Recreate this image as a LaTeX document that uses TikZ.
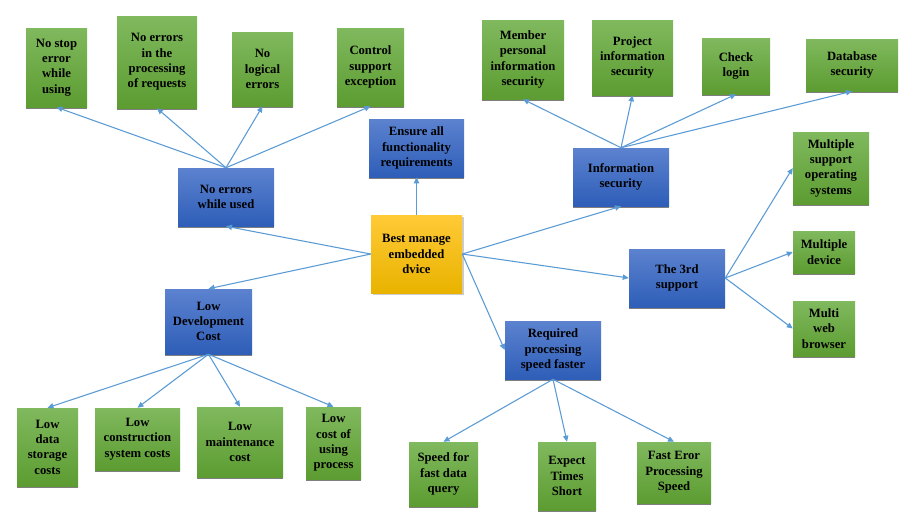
\documentclass[tikz,border=0pt]{standalone}
\usepackage{fontspec}
\setmainfont{Liberation Serif}
\usetikzlibrary{arrows.meta,shadows}

\definecolor{greenTop}{HTML}{80B95E}
\definecolor{greenBot}{HTML}{5C9C31}
\definecolor{blueTop}{HTML}{5C82CF}
\definecolor{blueBot}{HTML}{2E5EB8}
\definecolor{goldTop}{HTML}{FFCA36}
\definecolor{goldBot}{HTML}{E9B300}
\definecolor{linkBlue}{HTML}{5B9BD5}
\definecolor{edgeGray}{HTML}{7F7F7F}

\tikzset{
  box/.style={rectangle, inner sep=0pt, align=center,
    font=\fontsize{9.5}{11.5}\selectfont\bfseries,
    drop shadow={shadow xshift=0pt, shadow yshift=-1.5pt, fill=edgeGray, opacity=1}},
  leaf/.style={box, top color=greenTop, bottom color=greenBot},
  branch/.style={box, top color=blueTop, bottom color=blueBot},
  hub/.style={rectangle, inner sep=0pt, align=center,
    font=\fontsize{9.5}{11.5}\selectfont\bfseries,
    top color=goldTop, bottom color=goldBot,
    drop shadow={shadow xshift=1.5pt, shadow yshift=-1.5pt, fill=black, opacity=0.2}},
  link/.style={draw=linkBlue, line width=0.8pt,
    -{Triangle[length=4.5pt,width=4pt]}}
}

% \mkbox{name}{style}{x1}{y1}{x2}{y2}{text}
\newcommand\mkbox[7]{%
  \pgfmathsetmacro\boxw{(#5-#3)*0.75}%
  \pgfmathsetmacro\boxh{(#6-#4)*0.75}%
  \node[#2, minimum width=\boxw pt, minimum height=\boxh pt]
    (#1) at ({(#3+#5)/2},{(#4+#6)/2}) {#7};}

\begin{document}
\begin{tikzpicture}[x=0.75pt, y=-0.75pt]
  \fill[white] (0,0) rectangle (906,522);
  \useasboundingbox (0,0) rectangle (906,522);

  % root
  \mkbox{root}{hub}{371}{215}{462}{293}{Best manage\\embedded\\dvice}

  % first level
  \mkbox{errs}{branch}{178}{168}{274}{226}{No errors\\while used}
  \mkbox{ensure}{branch}{369}{119}{464}{177}{Ensure all\\functionality\\requirements}
  \mkbox{infosec}{branch}{573}{148}{669}{206}{Information\\security}
  \mkbox{third}{branch}{629}{249}{725}{307}{The 3rd\\support}
  \mkbox{speed}{branch}{505}{321}{601}{379}{Required\\processing\\speed faster}
  \mkbox{cost}{branch}{165}{289}{252}{354}{Low\\Development\\Cost}

  % errors group
  \mkbox{e1}{leaf}{26}{28}{87}{107}{No stop\\error\\while\\using}
  \mkbox{e2}{leaf}{117}{16}{197}{108}{No errors\\in the\\processing\\of requests}
  \mkbox{e3}{leaf}{232}{32}{293}{106}{No\\logical\\errors}
  \mkbox{e4}{leaf}{337}{28}{404}{106}{Control\\support\\exception}

  % security group
  \mkbox{s1}{leaf}{482}{20}{564}{99}{Member\\personal\\information\\security}
  \mkbox{s2}{leaf}{592}{20}{673}{95}{Project\\information\\security}
  \mkbox{s3}{leaf}{702}{38}{770}{94}{Check\\login}
  \mkbox{s4}{leaf}{806}{39}{898}{91}{Database\\security}

  % third-party support group
  \mkbox{t1}{leaf}{793}{132}{869}{204}{Multiple\\support\\operating\\systems}
  \mkbox{t2}{leaf}{793}{231}{855}{273}{Multiple\\device}
  \mkbox{t3}{leaf}{793}{301}{855}{356}{Multi\\web\\browser}

  % speed group
  \mkbox{p1}{leaf}{409}{442}{478}{506}{Speed for\\fast data\\query}
  \mkbox{p2}{leaf}{538}{442}{596}{510}{Expect\\Times\\Short}
  \mkbox{p3}{leaf}{637}{442}{711}{503}{Fast Eror\\Processing\\Speed}

  % cost group
  \mkbox{c1}{leaf}{17}{408}{78}{486}{Low\\data\\storage\\costs}
  \mkbox{c2}{leaf}{95}{408}{180}{470}{Low\\construction\\system costs}
  \mkbox{c3}{leaf}{197}{407}{283}{477}{Low\\maintenance\\cost}
  \mkbox{c4}{leaf}{306}{407}{361}{479}{Low\\cost of\\using\\process}

  % connectors from the root
  \draw[link] (root.west) -- (errs.south);
  \draw[link] (root.west) -- (cost.north);
  \draw[link] (root.north) -- (ensure.south);
  \draw[link] (root.east) -- (infosec.south);
  \draw[link] (root.east) -- (third.west);
  \draw[link] (root.east) -- (speed.west);

  % second level connectors
  \foreach \t in {e1,e2,e3,e4} \draw[link] (errs.north) -- (\t.south);
  \foreach \t in {s1,s2,s3,s4} \draw[link] (infosec.north) -- (\t.south);
  \foreach \t in {t1,t2,t3} \draw[link] (third.east) -- (\t.west);
  \foreach \t in {p1,p2,p3} \draw[link] (speed.south) -- (\t.north);
  \foreach \t in {c1,c2,c3,c4} \draw[link] (cost.south) -- (\t.north);
\end{tikzpicture}
\end{document}
